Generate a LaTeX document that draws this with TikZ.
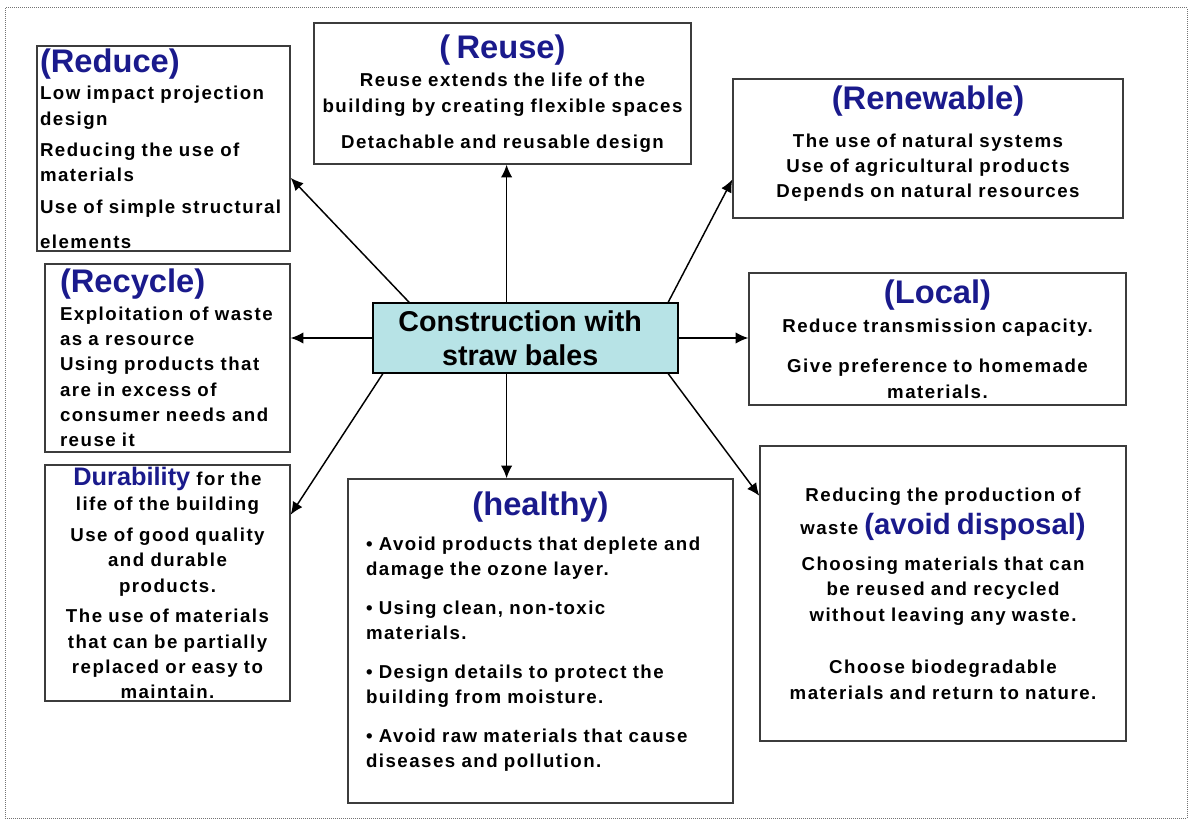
\documentclass[tikz,border=0pt]{standalone}
\usepackage{fontspec}
\setmainfont{Liberation Sans}
\newfontfamily\bodyfont[LetterSpace=8]{Liberation Sans}
\usetikzlibrary{arrows.meta}

\definecolor{navy}{RGB}{26,26,140}
\definecolor{hubfill}{RGB}{183,227,230}
\definecolor{boxline}{RGB}{60,60,60}

% title styles inside the boxes
\newcommand\ttl[1]{{\normalfont\bfseries\fontsize{24.5}{28}\selectfont\color{navy}#1}}
\newcommand\dur[1]{{\normalfont\bfseries\fontsize{19}{22}\selectfont\color{navy}#1}}
\newcommand\avd[1]{{\normalfont\bfseries\fontsize{22}{26}\selectfont\color{navy}#1}}

\tikzset{
  box/.style={draw=boxline, line width=1pt, inner sep=0pt,
    font=\bodyfont\bfseries\fontsize{14}{19}\selectfont},
  hub/.style={draw=black, line width=0.8pt, fill=hubfill, inner sep=0pt,
    minimum width=228.75pt, minimum height=52.5pt, align=center,
    font=\bfseries\fontsize{21.5}{25.5}\selectfont},
  arr/.style={-{Latex[length=9.5pt,width=8.5pt]}, line width=1.1pt},
}

\begin{document}
\begin{tikzpicture}[x=0.75pt, y=-0.75pt]
  \useasboundingbox (0,0) rectangle (1195,823);
  \draw [black!55, line width=0.75pt, dash pattern=on 0.75pt off 0.75pt] (5,8) rectangle (1187,818);

  % centre
  \node [hub] (hub) at (525.5,338) {Construction with\hspace*{8pt}\\straw bales\hspace*{8pt}};

  % boxes round it
  \node [box, minimum width=189.75pt, minimum height=153.75pt, text width=185.25pt, align=left] (reduce) at (163.5,148.5)
    {\ttl{(Reduce)}\\[1.7pt]
     Low impact projection\\design\\[4.5pt]
     Reducing the use of\\materials\\[4.5pt]
     Use of simple structural\\[7.5pt]
     elements};
  \node [box, minimum width=282.75pt, minimum height=105.75pt, text width=278.25pt, align=center] (reuse) at (502.5,93.5)
    {\ttl{( Reuse)}\\[2.4pt]
     Reuse extends the life of the\\
     building by creating flexible spaces\\[8pt]
     Detachable and reusable design};
  \node [box, minimum width=292.5pt, minimum height=104.25pt, text width=288pt, align=center] (renew) at (928,148.5)
    {\ttl{(Renewable)}\\[9.2pt]
     The use of natural systems\\
     Use of agricultural products\\
     Depends on natural resources\\[-9pt]\mbox{}};
  \node [box, minimum width=183.75pt, minimum height=141pt, text width=161.25pt, align=left] (recycle) at (167.5,358)
    {\ttl{(Recycle)}\\[1.7pt]
     Exploitation of waste\\as a resource\\
     Using products that\\are in excess of\\
     consumer needs and\\reuse it};
  \node [box, minimum width=282.75pt, minimum height=99pt, text width=280pt, align=center] (local) at (937.5,339)
    {\ttl{(Local)}\\[3.2pt]
     Reduce transmission capacity.\\[11pt]
     Give preference to homemade\\materials.};
  \node [box, minimum width=183.75pt, minimum height=177pt, text width=180pt, align=center] (durab) at (167.5,583)
    {\dur{Durability} for the\\
     life of the building\\[4pt]
     Use of good quality\\and durable\\products.\\[4pt]
     The use of materials\\that can be partially\\
     replaced or easy to\\maintain.};
  \node [box, minimum width=288.75pt, minimum height=243pt, text width=261.75pt, align=left] (healthy) at (540.5,641)
    {\hspace*{\fill}\ttl{(healthy)}\hspace*{\fill}\mbox{}\\[6.9pt]
     • Avoid products that deplete and\\damage the ozone layer.\\[10pt]
     • Using clean, non-toxic\\materials.\\[10pt]
     • Design details to protect the\\building from moisture.\\[10pt]
     • Avoid raw materials that cause\\diseases and pollution.\\[-1.95pt]\mbox{}};
  \node [box, minimum width=274.5pt, minimum height=221.25pt, text width=270pt, align=center] (avoid) at (943,593.5)
    {Reducing the production of\\[6pt]
     waste \avd{(avoid disposal)}\\[8pt]
     Choosing materials that can\\be reused and recycled\\
     without leaving any waste.\\[20.7pt]
     Choose biodegradable\\materials and return to nature.};

  % arrows out of the centre
  \draw [arr] (hub.163) -- (reduce.-13);
  \draw [arr] (hub.118) -- (hub.118 |- reuse.south);
  \draw [arr] (hub.14) -- (renew.189);
  \draw [arr] (hub.west) -- (hub.west -| recycle.east);
  \draw [arr] (hub.east) -- (hub.east -| local.west);
  \draw [arr] (hub.194) -- (durab.29);
  \draw [arr] (hub.242) -- (hub.242 |- healthy.north);
  \draw [arr] (hub.-14) -- (avoid.152);
\end{tikzpicture}
\end{document}
